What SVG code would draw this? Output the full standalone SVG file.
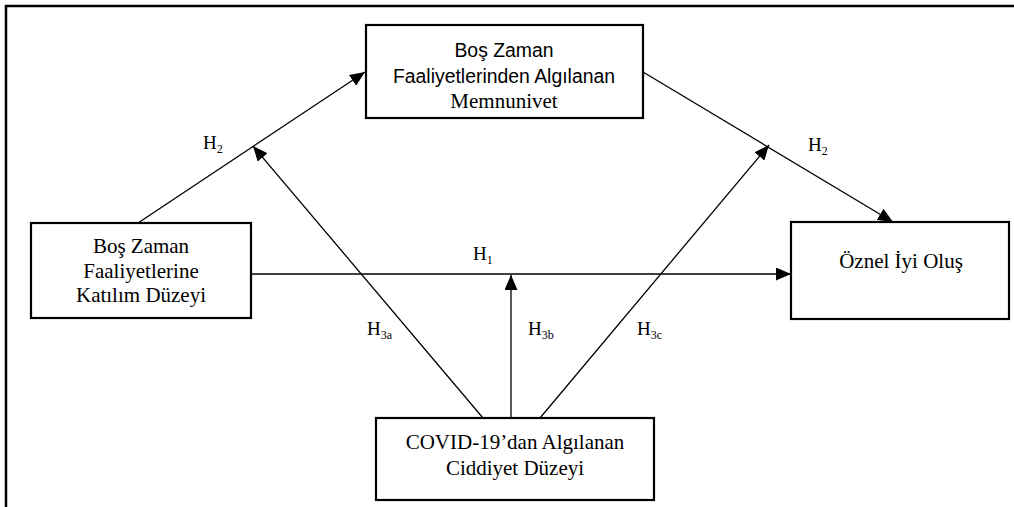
<svg xmlns="http://www.w3.org/2000/svg" width="1014" height="507" viewBox="0 0 1014 507">
<style>
.box{fill:#fff;stroke:#000;stroke-width:2.2}
.ser{font-family:"Liberation Serif","Times New Roman",serif;font-size:21px;fill:#000;text-anchor:middle}
.san{font-family:"Liberation Sans",Arial,sans-serif;font-size:19.4px;fill:#000;text-anchor:middle}
.lbl{font-family:"Liberation Serif","Times New Roman",serif;font-size:19px;fill:#000}
.sub{font-size:12px}
.con{stroke:#000;stroke-width:1.3;fill:none}
</style>
<defs>
<marker id="ah" markerUnits="userSpaceOnUse" markerWidth="15" markerHeight="13" refX="15" refY="6.5" orient="auto">
<path d="M0,0 L15,6.5 L0,13 z" fill="#000"/>
</marker>
</defs>
<path d="M6,507 L6,6 L1014,6" fill="none" stroke="#000" stroke-width="2.5"/>
<g id="connectors">
<line class="con" x1="138" y1="223" x2="365" y2="72" marker-end="url(#ah)"/>
<line class="con" x1="643" y1="72" x2="893" y2="222" marker-end="url(#ah)"/>
<line class="con" x1="251" y1="274" x2="791" y2="274" marker-end="url(#ah)"/>
<line class="con" x1="483" y1="418" x2="253" y2="146" marker-end="url(#ah)"/>
<line class="con" x1="511" y1="418" x2="511" y2="275" marker-end="url(#ah)"/>
<line class="con" x1="540" y1="418" x2="769" y2="145" marker-end="url(#ah)"/>
<text class="lbl" x="203" y="149">H<tspan class="sub" dy="4">2</tspan></text>
<text class="lbl" x="808" y="151">H<tspan class="sub" dy="4">2</tspan></text>
<text class="lbl" x="473" y="260">H<tspan class="sub" dy="4">1</tspan></text>
<text class="lbl" x="367" y="335">H<tspan class="sub" dy="4">3a</tspan></text>
<text class="lbl" x="528" y="335">H<tspan class="sub" dy="4">3b</tspan></text>
<text class="lbl" x="637" y="335">H<tspan class="sub" dy="4">3c</tspan></text>
</g>
<g id="node-memnuniyet">
<rect class="box" x="366" y="25" width="277" height="93"/>
<text class="san" x="504" y="57">Boş Zaman</text>
<text class="san" x="504" y="83">Faaliyetlerinden Algılanan</text>
<text class="ser" x="504" y="108">Memnunivet</text>
</g>
<g id="node-katilim">
<rect class="box" x="31" y="223" width="220" height="95"/>
<text class="ser" x="141" y="253">Boş Zaman</text>
<text class="ser" x="141" y="278">Faaliyetlerine</text>
<text class="ser" x="141" y="302">Katılım Düzeyi</text>
</g>
<g id="node-oznel">
<rect class="box" x="791" y="222" width="218" height="97"/>
<text class="ser" x="901" y="268">Öznel İyi Oluş</text>
</g>
<g id="node-covid">
<rect class="box" x="376" y="418" width="278" height="82"/>
<text class="ser" x="515" y="449">COVID-19’dan Algılanan</text>
<text class="ser" x="515" y="475">Ciddiyet Düzeyi</text>
</g>
</svg>
